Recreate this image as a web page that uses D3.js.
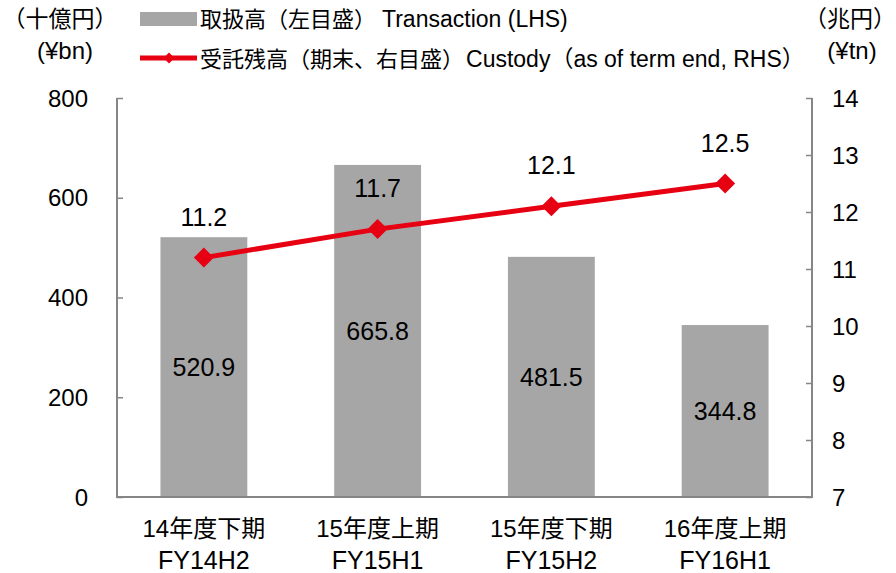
<!DOCTYPE html>
<html>
<head>
<meta charset="utf-8">
<script src="https://cdn.jsdelivr.net/npm/d3@7"></script>
<style>
  html, body { margin: 0; padding: 0; background: #fff; }
  svg text { font-family: "Liberation Sans", Arial, "Noto Sans CJK JP", sans-serif; fill: #000; }
</style>
</head>
<body>
<svg id="chart" width="896" height="573"></svg>
<script>
// Half-year periods
const categoriesJa = ["14年度下期", "15年度上期", "15年度下期", "16年度上期"];
const categoriesEn = ["FY14H2", "FY15H1", "FY15H2", "FY16H1"];
// Transaction volume, ¥bn (left axis)
const transaction = [520.9, 665.8, 481.5, 344.8];
// Custody balance at term end, ¥tn (right axis)
const custody = [11.2, 11.7, 12.1, 12.5];
const leftTicks = [0, 200, 400, 600, 800];
const rightTicks = [7, 8, 9, 10, 11, 12, 13, 14];

const svg = d3.select("#chart");
const fontCJK = '"Liberation Sans", Arial, "Noto Sans CJK JP", sans-serif';

const plot = { left: 117, right: 812, top: 98, bottom: 497 };

const x = d3.scaleBand()
  .domain(categoriesEn)
  .range([plot.left, plot.right])
  .paddingInner(0.5)
  .paddingOuter(0.25);

const yL = d3.scaleLinear().domain([0, 800]).range([plot.bottom, plot.top]);
const yR = d3.scaleLinear().domain([7, 14]).range([plot.bottom, plot.top]);

const axisColor = "#868686";
const red = "#e60012";

// Bars
svg.append("g").selectAll("rect")
  .data(transaction)
  .join("rect")
  .attr("x", (d, i) => x(categoriesEn[i]))
  .attr("y", d => yL(d))
  .attr("width", x.bandwidth())
  .attr("height", d => yL(0) - yL(d))
  .attr("fill", "#a6a6a6");

// Left axis
const gL = svg.append("g").attr("transform", `translate(${plot.left},0)`)
  .call(d3.axisRight(yL).tickValues(leftTicks).tickSize(6).tickFormat(""));
gL.select(".domain").remove();
gL.selectAll(".tick line").attr("stroke", axisColor).attr("stroke-width", 1.5);
svg.append("line")
  .attr("x1", plot.left).attr("x2", plot.left)
  .attr("y1", plot.top).attr("y2", plot.bottom)
  .attr("stroke", axisColor).attr("stroke-width", 2);
svg.append("g").selectAll("text")
  .data(leftTicks)
  .join("text")
  .attr("x", 88).attr("y", d => yL(d))
  .attr("dy", "0.36em")
  .attr("text-anchor", "end")
  .attr("font-size", 24)
  .text(d => d);

// Right axis
const gR = svg.append("g").attr("transform", `translate(${plot.right},0)`)
  .call(d3.axisLeft(yR).tickValues(rightTicks).tickSize(6).tickFormat(""));
gR.select(".domain").remove();
gR.selectAll(".tick line").attr("stroke", axisColor).attr("stroke-width", 1.5);
svg.append("line")
  .attr("x1", plot.right).attr("x2", plot.right)
  .attr("y1", plot.top).attr("y2", plot.bottom)
  .attr("stroke", axisColor).attr("stroke-width", 2);
svg.append("g").selectAll("text")
  .data(rightTicks)
  .join("text")
  .attr("x", 832).attr("y", d => yR(d))
  .attr("dy", "0.36em")
  .attr("text-anchor", "start")
  .attr("font-size", 24)
  .text(d => d);

// Bottom axis
svg.append("line")
  .attr("x1", plot.left - 1).attr("x2", plot.right + 1)
  .attr("y1", plot.bottom).attr("y2", plot.bottom)
  .attr("stroke", axisColor).attr("stroke-width", 2);

// Category labels
const catG = svg.append("g");
categoriesEn.forEach((c, i) => {
  const cx = x(c) + x.bandwidth() / 2;
  catG.append("text").attr("x", cx).attr("y", 537).attr("text-anchor", "middle")
    .attr("font-size", 24).style("font-family", fontCJK).text(categoriesJa[i]);
  catG.append("text").attr("x", cx).attr("y", 569).attr("text-anchor", "middle")
    .attr("font-size", 25).text(categoriesEn[i]);
});

// Bar value labels
svg.append("g").selectAll("text")
  .data(transaction)
  .join("text")
  .attr("x", (d, i) => x(categoriesEn[i]) + x.bandwidth() / 2)
  .attr("y", d => (yL(d) + yL(0)) / 2)
  .attr("dy", "0.36em")
  .attr("text-anchor", "middle")
  .attr("font-size", 25)
  .text(d => d.toFixed(1));

// Custody line
const cx = (d, i) => x(categoriesEn[i]) + x.bandwidth() / 2;
svg.append("path")
  .datum(custody)
  .attr("d", d3.line().x(cx).y(d => yR(d)))
  .attr("fill", "none")
  .attr("stroke", red)
  .attr("stroke-width", 5);

const diamond = d3.symbol().type(d3.symbolSquare).size(200);
svg.append("g").selectAll("path")
  .data(custody)
  .join("path")
  .attr("d", diamond)
  .attr("transform", (d, i) => `translate(${cx(d, i)},${yR(d)}) rotate(45)`)
  .attr("fill", red);

svg.append("g").selectAll("text")
  .data(custody)
  .join("text")
  .attr("x", cx)
  .attr("y", d => yR(d) - 32)
  .attr("text-anchor", "middle")
  .attr("font-size", 25)
  .text(d => d.toFixed(1));

// Unit labels
svg.append("text").attr("x", 60).attr("y", 27).attr("text-anchor", "middle")
  .attr("font-size", 23).style("font-family", fontCJK).text("（十億円）");
svg.append("text").attr("x", 65).attr("y", 59).attr("text-anchor", "middle")
  .attr("font-size", 24).text("(¥bn)");
svg.append("text").attr("x", 850).attr("y", 27).attr("text-anchor", "middle")
  .attr("font-size", 23).style("font-family", fontCJK).text("（兆円）");
svg.append("text").attr("x", 852).attr("y", 59).attr("text-anchor", "middle")
  .attr("font-size", 24).text("(¥tn)");

// Legend
const lg = svg.append("g");
lg.append("rect").attr("x", 140).attr("y", 12).attr("width", 57).attr("height", 14).attr("fill", "#a6a6a6");
lg.append("text").attr("x", 200).attr("y", 27).attr("font-size", 22)
  .style("font-family", fontCJK)
  .call(t => {
    t.append("tspan").text("取扱高（左目盛）");
    t.append("tspan").attr("dx", 6).attr("font-size", 23).text("Transaction (LHS)");
  });
lg.append("line").attr("x1", 140).attr("x2", 197).attr("y1", 58).attr("y2", 58)
  .attr("stroke", red).attr("stroke-width", 5);
lg.append("path").attr("d", d3.symbol().type(d3.symbolSquare).size(60))
  .attr("transform", "translate(169,58) rotate(45)").attr("fill", red);
lg.append("text").attr("x", 200).attr("y", 67).attr("font-size", 22)
  .style("font-family", fontCJK)
  .call(t => {
    t.append("tspan").text("受託残高（期末、右目盛）");
    t.append("tspan").attr("dx", 2).attr("font-size", 23).text("Custody（as of term end, RHS）");
  });
</script>
</body>
</html>
